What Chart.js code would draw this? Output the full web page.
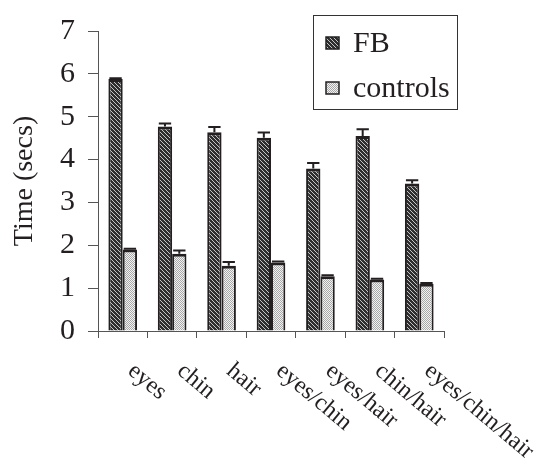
<!DOCTYPE html>
<html>
<head>
<meta charset="utf-8">
<script src="https://cdn.jsdelivr.net/npm/chart.js@4/dist/chart.umd.min.js"></script>
<style>
  html, body { margin: 0; padding: 0; background: #fff; }
  #wrap { width: 542px; height: 461px; }
</style>
</head>
<body>
<div id="wrap"><canvas id="chart" width="542" height="461"></canvas></div>
<script>
// data
const categories = ['eyes', 'chin', 'hair', 'eyes/chin', 'eyes/hair', 'chin/hair', 'eyes/chin/hair'];
const fbTimes = [5.88, 4.77, 4.64, 4.51, 3.79, 4.55, 3.44];
const fbErr = [0.02, 0.07, 0.12, 0.12, 0.13, 0.16, 0.08];
const controlTimes = [1.9, 1.8, 1.52, 1.6, 1.28, 1.2, 1.1];
const controlErr = [0.02, 0.08, 0.09, 0.02, 0.02, 0.02, 0.02];
const yTicks = [0, 1, 2, 3, 4, 5, 6, 7];

const serif = "'Liberation Serif', 'Times New Roman', serif";
const ink = '#231f20';

// hatch fills built on small tiles
function makeTile(size, painter) {
    const c = document.createElement('canvas');
    c.width = size; c.height = size;
    const g = c.getContext('2d');
    for (let y = 0; y < size; y++) {
        for (let x = 0; x < size; x++) {
            g.fillStyle = painter(x, y);
            g.fillRect(x, y, 1, 1);
        }
    }
    return c;
}
const ctx = document.getElementById('chart').getContext('2d');
const fbFill = ctx.createPattern(makeTile(4, (x, y) => ((x - y + 8) % 4 === 0 ? '#c4c4c4' : '#2e2e2e')), 'repeat');
const ctlFill = ctx.createPattern(makeTile(2, (x, y) => ((x + y) % 2 === 0 ? '#a8a8a8' : '#f2f2f2')), 'repeat');

// error bars (upper half only) drawn from the bar elements
const errorBars = {
    id: 'errorBars',
    afterDatasetsDraw(chart) {
        const c = chart.ctx;
        const yScale = chart.scales.y;
        chart.data.datasets.forEach((ds, i) => {
            const meta = chart.getDatasetMeta(i);
            meta.data.forEach((bar, j) => {
                const top = yScale.getPixelForValue(ds.data[j] + ds.errors[j]);
                const half = bar.width / 2 - 1;
                c.save();
                c.strokeStyle = ink;
                c.lineWidth = 2;
                c.beginPath();
                c.moveTo(bar.x, bar.y);
                c.lineTo(bar.x, top);
                c.moveTo(bar.x - half, top);
                c.lineTo(bar.x + half, top);
                c.stroke();
                c.restore();
            });
        });
    }
};

// rotated category labels and boxed legend
const extras = {
    id: 'extras',
    afterDraw(chart) {
        const c = chart.ctx;
        const xScale = chart.scales.x;
        c.save();
        c.fillStyle = ink;
        c.font = '24px ' + serif;
        c.textAlign = 'left';
        c.textBaseline = 'middle';
        categories.forEach((label, i) => {
            const x = xScale.getPixelForValue(i) + 8;
            c.save();
            c.translate(x, 368);
            c.rotate(40 * Math.PI / 180);
            c.fillText(label, 0, 0);
            c.restore();
        });

        // legend
        c.strokeStyle = '#333';
        c.lineWidth = 1;
        c.strokeRect(313.5, 15.5, 144, 94);
        c.font = '30px ' + serif;
        const rows = [43, 88];
        chart.data.datasets.forEach((ds, i) => {
            const y = rows[i];
            c.fillStyle = ds.backgroundColor;
            c.fillRect(326, y - 6, 13, 12);
            c.strokeStyle = ink;
            c.lineWidth = 1.5;
            c.strokeRect(326, y - 6, 13, 12);
            c.fillStyle = ink;
            c.fillText(ds.label, 353, y + 1);
        });
        c.restore();
    }
};

new Chart(ctx, {
    type: 'bar',
    data: {
        labels: categories,
        datasets: [
            {
                label: 'FB',
                data: fbTimes,
                errors: fbErr,
                backgroundColor: fbFill,
                borderColor: ink,
                borderWidth: { top: 3, left: 2, right: 2, bottom: 0 },
                borderSkipped: false
            },
            {
                label: 'controls',
                data: controlTimes,
                errors: controlErr,
                backgroundColor: ctlFill,
                borderColor: ink,
                borderWidth: { top: 3, left: 2, right: 2, bottom: 0 },
                borderSkipped: false
            }
        ]
    },
    options: {
        responsive: false,
        animation: false,
        categoryPercentage: 0.58,
        barPercentage: 1.0,
        layout: { padding: { top: 23, right: 98, left: 0, bottom: 0 } },
        plugins: {
            legend: { display: false },
            tooltip: { enabled: false }
        },
        scales: {
            x: {
                offset: true,
                grid: {
                    offset: true,
                    drawOnChartArea: false,
                    tickLength: 7,
                    color: '#555'
                },
                border: { color: '#555', width: 1 },
                ticks: { display: false },
                afterFit(scale) { scale.height = 130; }
            },
            y: {
                min: 0,
                max: 7,
                afterBuildTicks(scale) { scale.ticks = yTicks.map(v => ({ value: v })); },
                grid: {
                    drawOnChartArea: false,
                    tickLength: 10,
                    color: '#555'
                },
                border: { color: '#555', width: 1 },
                ticks: {
                    color: ink,
                    padding: 13,
                    font: { family: serif, size: 30 }
                },
                title: {
                    display: true,
                    text: 'Time (secs)',
                    color: ink,
                    padding: { top: 8, bottom: 0 },
                    font: { family: serif, size: 28 }
                },
                afterFit(scale) { scale.width = 98; }
            }
        }
    },
    plugins: [errorBars, extras]
});
</script>
</body>
</html>
